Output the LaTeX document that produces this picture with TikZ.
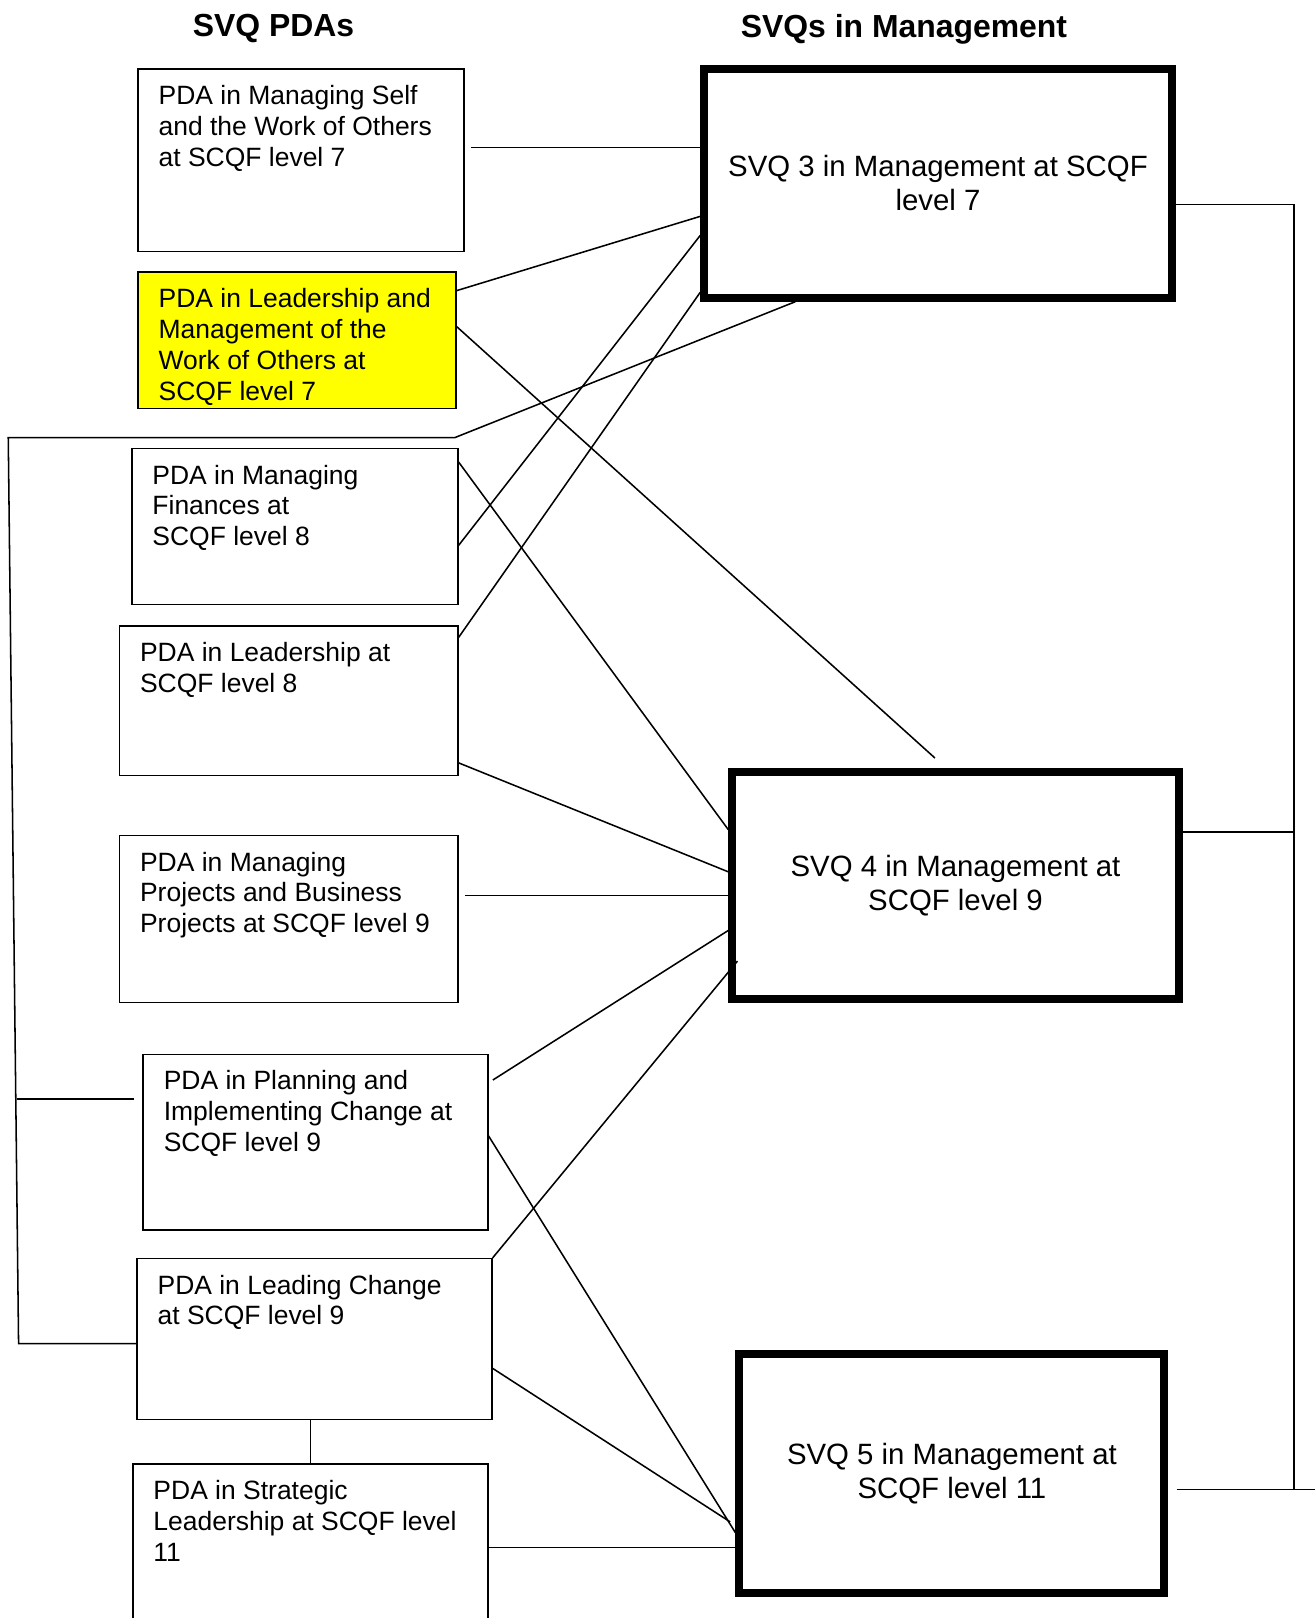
\documentclass[tikz,border=0pt]{standalone}
\usepackage{fontspec}
\setmainfont{Liberation Sans}
\usetikzlibrary{calc, positioning}
\definecolor{HighlightYellow}{HTML}{FFFF00}
\newcommand{\pdasize}{\fontsize{14.6}{17}\selectfont}
\newcommand{\svqsize}{\fontsize{16.2}{18.8}\selectfont}
\newcommand{\headsize}{\fontsize{17.6}{21}\selectfont}
\newcommand{\pdatext}[3]{\parbox[t][#2][t]{#1}{\begin{tabular}[t]{@{}l@{}}#3\end{tabular}}}

\begin{document}
\begin{tikzpicture}[x=0.02cm, y=-0.02cm, line width=0.85pt,
    pda/.style={draw, anchor=north west, inner xsep=0.4cm, inner ysep=0.27cm, font=\pdasize},
    svq/.style={draw, line width=4.4pt, align=center, font=\svqsize}]
    \useasboundingbox (0,0) rectangle (1274,1568);

    % Column headings
    \node[font=\bfseries\headsize] (pdahead) at (265,28) {SVQ PDAs};
    \node[font=\bfseries\headsize] (svqhead) at (876,28) {SVQs in Management};

    % PDA boxes
    \node[pda] (selfwork) at (133,66) {\pdatext{5.52cm}{3.00cm}{PDA in Managing Self\\ and the Work of Others\\ at SCQF level 7}};
    \node[pda, fill=HighlightYellow] (leadmgmt) at (133,263) {\pdatext{5.36cm}{2.10cm}{PDA in Leadership and\\ Management of the\\ Work of Others at\\ SCQF level 7}};
    \node[pda] (finances) at (127,434) {\pdatext{5.52cm}{2.48cm}{PDA in Managing\\ Finances at\\ SCQF level 8}};
    \node[pda] (leadership) at (115,606) {\pdatext{5.76cm}{2.36cm}{PDA in Leadership at\\ SCQF level 8}};
    \node[pda] (projects) at (115,809) {\pdatext{5.76cm}{2.70cm}{PDA in Managing\\ Projects and Business\\ Projects at SCQF level 9}};
    \node[pda] (planning) at (138,1021) {\pdatext{5.88cm}{2.86cm}{PDA in Planning and\\ Implementing Change at\\ SCQF level 9}};
    \node[pda] (leadchange) at (132,1219) {\pdatext{6.08cm}{2.58cm}{PDA in Leading Change\\ at SCQF level 9}};
    \node[pda] (strategic) at (128,1418) {\pdatext{6.08cm}{3.06cm}{PDA in Strategic\\ Leadership at SCQF level\\ 11}};

    % SVQ boxes
    \node[svq, minimum width=9.06cm, minimum height=4.44cm] (svq3) at (909,177.5) {SVQ 3 in Management at SCQF\\ level 7};
    \node[svq, minimum width=8.66cm, minimum height=4.40cm] (svq4) at (926,858.5) {SVQ 4 in Management at\\ SCQF level 9};
    \node[svq, minimum width=8.24cm, minimum height=4.62cm] (svq5) at (922.5,1428) {SVQ 5 in Management at\\ SCQF level 11};

    % Bend points of the side brackets
    \coordinate (kneeR) at (441,424);
    \coordinate (kneeL) at (8,424);
    \coordinate (midL) at (16,1065);
    \coordinate (footL) at (18,1302);
    \coordinate (rail) at (1254,0);
    \coordinate (edge) at (1274,0);

    % Links into SVQ 3
    \coordinate (p1) at ($(selfwork.north east)!.43!(selfwork.south east)$);
    \draw[shorten <=0.12cm] (p1) -- (p1 -| svq3.west);
    \draw ($(leadmgmt.north east)!.14!(leadmgmt.south east)$) -- ($(svq3.north west)!.64!(svq3.south west)$);
    \draw ($(finances.north east)!.62!(finances.south east)$) -- ($(svq3.north west)!.72!(svq3.south west)$);
    \draw ($(leadership.north east)!.08!(leadership.south east)$) -- ($(svq3.north west)!.96!(svq3.south west)$);
    \draw ($(svq3.south west)!.2!(svq3.south east)$) -- (kneeR) -- (kneeL) -- (footL) -- (footL -| leadchange.west);
    \draw[shorten >=0.16cm] (midL) -- (midL -| planning.west);

    % Links into SVQ 4
    \draw[shorten >=0.3cm] ($(leadmgmt.north east)!.40!(leadmgmt.south east)$) -- ($(svq4.north west)!.48!(svq4.north east)$);
    \draw ($(finances.north east)!.09!(finances.south east)$) -- ($(svq4.north west)!.26!(svq4.south west)$);
    \draw ($(leadership.north east)!.91!(leadership.south east)$) -- ($(svq4.north west)!.44!(svq4.south west)$);
    \coordinate (p9) at ($(projects.north east)!.36!(projects.south east)$);
    \draw[shorten <=0.12cm] (p9) -- (p9 -| svq4.west);
    \draw[shorten <=0.1cm] ($(planning.north east)!.165!(planning.south east)$) -- ($(svq4.north west)!.69!(svq4.south west)$);
    \draw (leadchange.north east) -- ($(svq4.north west)!.82!(svq4.south west) + (0.18cm,0)$);

    % Links into SVQ 5
    \draw ($(planning.north east)!.465!(planning.south east)$) -- ($(svq5.north west)!.74!(svq5.south west)$);
    \draw[shorten >=0.12cm] ($(leadchange.north east)!.68!(leadchange.south east)$) -- ($(svq5.north west)!.71!(svq5.south west)$);
    \coordinate (p15) at ($(svq5.north west)!.80!(svq5.south west)$);
    \draw (p15 -| strategic.east) -- (p15);
    \draw (leadchange.south -| strategic.north) -- (strategic.north);

    % Right-hand rail
    \coordinate (r3) at ($(svq3.north east)!.59!(svq3.south east)$);
    \coordinate (r4) at ($(svq4.north east)!.27!(svq4.south east)$);
    \coordinate (r5) at ($(svq5.north east)!.565!(svq5.south east)$);
    \draw (r3) -- (r3 -| rail) -- (r5 -| rail);
    \draw (r4) -- (r4 -| rail);
    \draw[shorten <=0.16cm] (r5) -- (r5 -| edge);
\end{tikzpicture}
\end{document}
